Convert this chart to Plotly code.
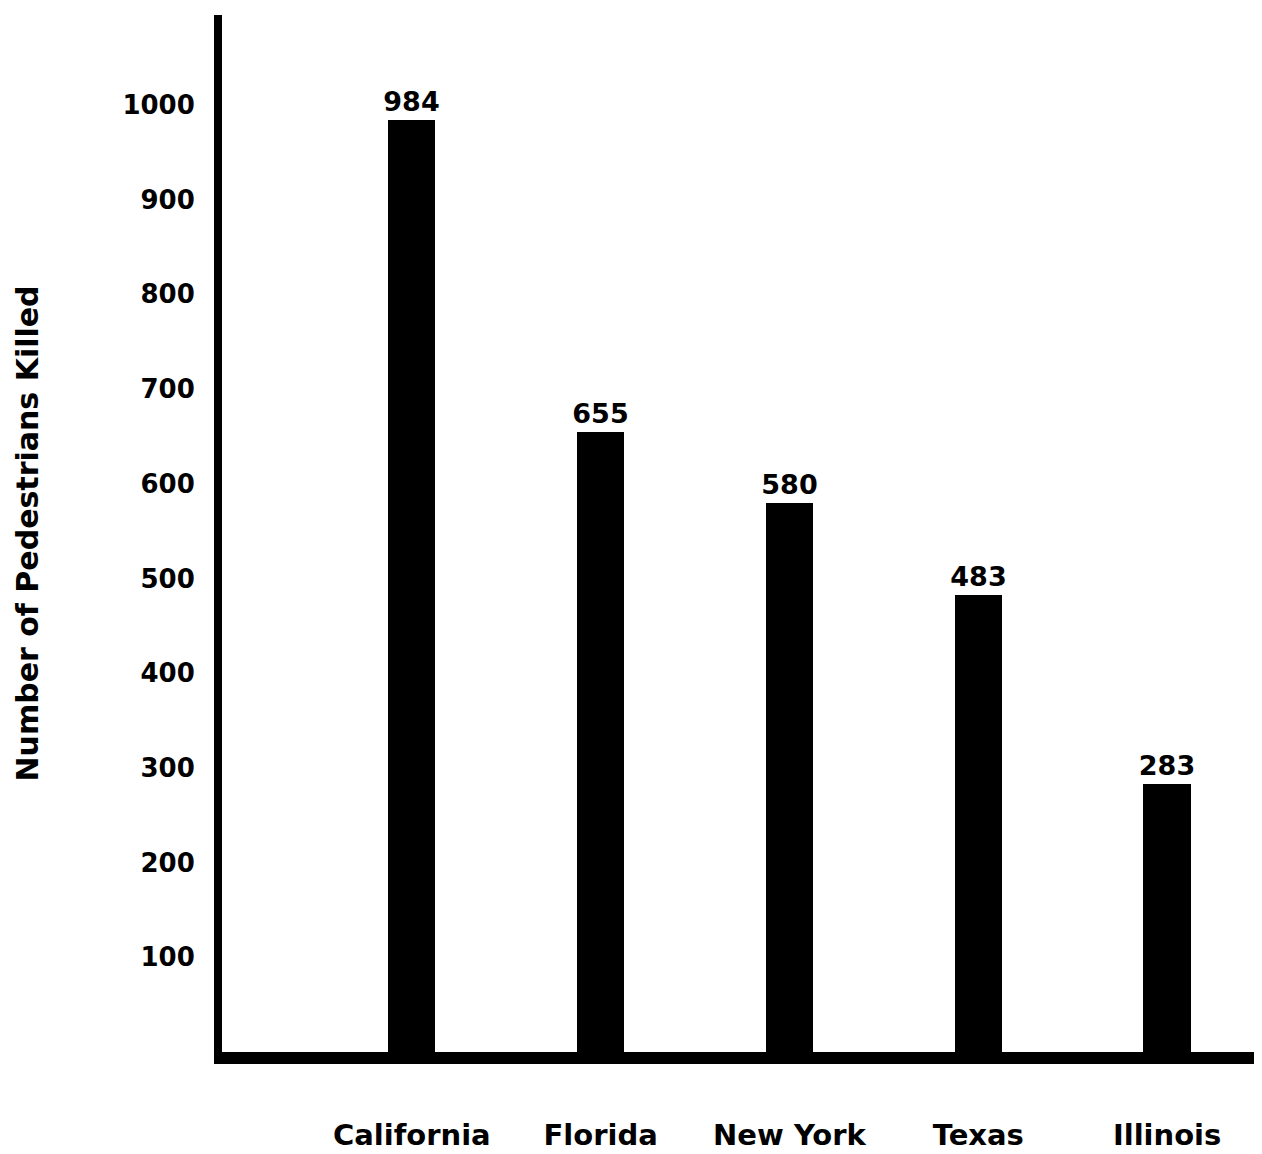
import plotly.graph_objects as go

states = ["California", "Florida", "New York", "Texas", "Illinois"]
killed = [984, 655, 580, 483, 283]
y_ticks = [100, 200, 300, 400, 500, 600, 700, 800, 900, 1000]

FONT = "DejaVu Sans"

fig = go.Figure(
    go.Bar(
        x=list(range(len(states))),
        y=killed,
        width=0.25,
        marker=dict(color="black", line=dict(width=0)),
        text=[f"<b>{v}</b>" for v in killed],
        textposition="outside",
        constraintext="none",
        textfont=dict(family=FONT, size=27, color="black"),
        cliponaxis=False,
    )
)

fig.update_layout(
    width=1262,
    height=1154,
    margin=dict(l=214, r=0, t=7, b=110),
    plot_bgcolor="white",
    paper_bgcolor="white",
    showlegend=False,
    bargap=0,
)

fig.update_xaxes(
    range=[-1.005, 4.545],
    tickvals=list(range(len(states))),
    ticktext=[f"<b>{s}</b>" for s in states],
    tickfont=dict(family=FONT, size=29, color="black"),
    ticklabelstandoff=46,
    showline=True,
    linecolor="black",
    linewidth=12,
    showgrid=False,
    zeroline=False,
    ticks="",
)

fig.update_yaxes(
    range=[0, 1095],
    tickvals=y_ticks,
    ticktext=[f"<b>{v}</b>" for v in y_ticks],
    tickfont=dict(family=FONT, size=26, color="black"),
    ticklabelstandoff=14,
    showline=True,
    linecolor="black",
    linewidth=8,
    showgrid=False,
    zeroline=False,
    ticks="",
    title=dict(
        text="<b>Number of Pedestrians Killed</b>",
        font=dict(family=FONT, size=30, color="black"),
        standoff=78,
    ),
)

fig.write_html("out.html")
